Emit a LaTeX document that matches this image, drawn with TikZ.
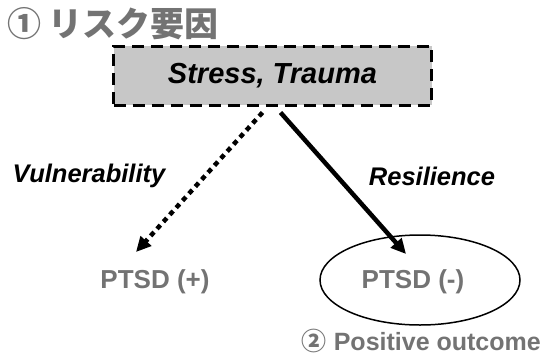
\documentclass[tikz,border=0pt]{standalone}
\usepackage{fontspec}
\setmainfont{Liberation Sans}
\newfontfamily\jpfont{Noto Sans CJK JP}
\usepackage{tikz}
\usetikzlibrary{positioning,arrows.meta,shapes.geometric}
\definecolor{halftone}{gray}{0.45}
\definecolor{boxfill}{gray}{0.78}

\begin{document}
\begin{tikzpicture}[x=1pt,y=-1pt,
    factor/.style={draw,line width=3pt,dash pattern=on 12pt off 7pt,fill=boxfill,
      minimum width=318pt,minimum height=59pt,inner sep=0pt,
      font=\fontsize{29}{32}\selectfont\bfseries\itshape},
    route/.style={inner sep=0pt,font=\fontsize{25.5}{28}\selectfont\bfseries\itshape},
    result/.style={inner sep=0pt,text=halftone,font=\fontsize{26}{29}\selectfont\bfseries},
    tip/.style={-{Triangle[length=15pt,width=14pt]},line width=4.5pt}]
    \useasboundingbox (0,0) rectangle (541,357);

    \node[anchor=west,inner sep=0pt,text=halftone,font=\fontsize{34}{38}\selectfont\jpfont\bfseries]
      (risk) at (7,24) {① リスク要因};
    \node[factor] (stress) at (272.5,75.5) {Stress, Trauma};

    \node[result] (pos) at (155,282) {PTSD (+)};
    \node[draw,ellipse,line width=1.5pt,minimum width=200pt,minimum height=90pt]
      (good) at (420,280) {};
    \node[result] (neg) at (413,282) {PTSD (-)};

    \node[route] (vul) at (89,176) {Vulnerability};
    \node[route] (res) at (432,176) {Resilience};

    \node[anchor=east,inner sep=0pt,text=halftone,font=\fontsize{25}{28}\selectfont\bfseries]
      (outcome) at (541,341) {{\jpfont ②} Positive outcome};

    \coordinate (tippos) at (136,252);
    \coordinate (tipneg) at (406,254);

    \path
    ([xshift=-10pt,yshift=-6pt]stress.south) edge[tip,dash pattern=on 5pt off 4.5pt] (tippos)
    ([xshift=8pt,yshift=-6pt]stress.south) edge[tip] (tipneg);
\end{tikzpicture}
\end{document}
